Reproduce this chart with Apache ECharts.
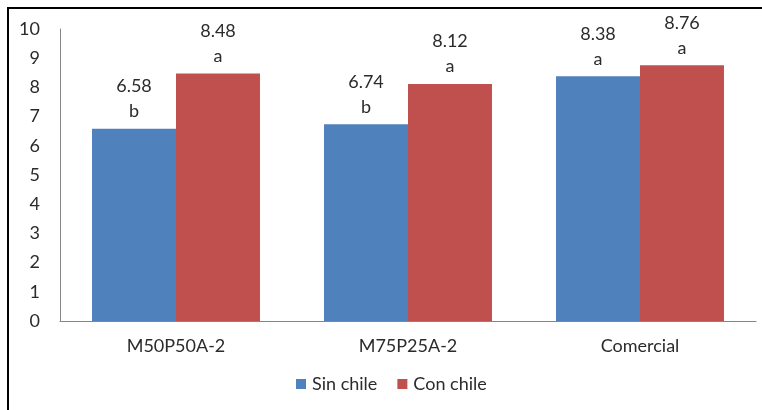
<!DOCTYPE html>
<html>
<head>
<meta charset="utf-8">
<script src="https://cdn.jsdelivr.net/npm/echarts@6/dist/echarts.min.js"></script>
<style>
  html, body { margin: 0; padding: 0; background: #fff; }
  #chart { width: 762px; height: 410px; }
</style>
</head>
<body>
<div id="chart"></div>
<script>
// Treatments and scores
var categories = ['M50P50A-2', 'M75P25A-2', 'Comercial'];
var sinChile = [6.58, 6.74, 8.38];
var conChile = [8.48, 8.12, 8.76];
// Significance letters shown under each value
var sinLetters = ['b', 'b', 'a'];
var conLetters = ['a', 'a', 'a'];
var yTicks = [0, 1, 2, 3, 4, 5, 6, 7, 8, 9, 10];

var FONT = 'Lato, "Open Sans", sans-serif';
var TEXT = '#2b2b2b';

function labelFor(letters) {
  return {
    show: true,
    position: 'top',
    distance: 5,
    color: TEXT,
    fontFamily: FONT,
    fontSize: 18,
    lineHeight: 25,
    formatter: function (p) {
      return p.value.toFixed(2) + '\n' + letters[p.dataIndex];
    }
  };
}

var chart = echarts.init(document.getElementById('chart'), null, { renderer: 'canvas' });
chart.setOption({
  animation: false,
  backgroundColor: '#fff',
  graphic: [{
    type: 'rect',
    shape: { x: 8, y: 8, width: 800, height: 450 },
    style: { fill: 'none', stroke: '#000', lineWidth: 2 },
    silent: true
  }],
  grid: { left: 60, right: 6, top: 29, bottom: 89 },
  legend: {
    bottom: 12,
    left: 291,
    itemWidth: 10,
    itemHeight: 10,
    itemGap: 20,
    icon: 'rect',
    textStyle: { color: TEXT, fontFamily: FONT, fontSize: 18, padding: [0, 0, 0, 1] },
    data: ['Sin chile', 'Con chile']
  },
  xAxis: {
    type: 'category',
    data: categories,
    axisLine: { lineStyle: { color: '#868686', width: 1 } },
    axisTick: { show: false },
    axisLabel: { color: TEXT, fontFamily: FONT, fontSize: 18, margin: 16 }
  },
  yAxis: {
    type: 'value',
    min: yTicks[0],
    max: yTicks[yTicks.length - 1],
    interval: 1,
    axisLine: { show: true, lineStyle: { color: '#868686', width: 1 } },
    axisTick: { show: false },
    splitLine: { show: false },
    axisLabel: { color: TEXT, fontFamily: FONT, fontSize: 18, margin: 20 }
  },
  series: [
    {
      name: 'Sin chile',
      type: 'bar',
      data: sinChile,
      barGap: '0%',
      barCategoryGap: '27.6%',
      itemStyle: { color: '#4F81BD' },
      label: labelFor(sinLetters)
    },
    {
      name: 'Con chile',
      type: 'bar',
      data: conChile,
      itemStyle: { color: '#C0504D' },
      label: labelFor(conLetters)
    }
  ]
});
</script>
</body>
</html>
